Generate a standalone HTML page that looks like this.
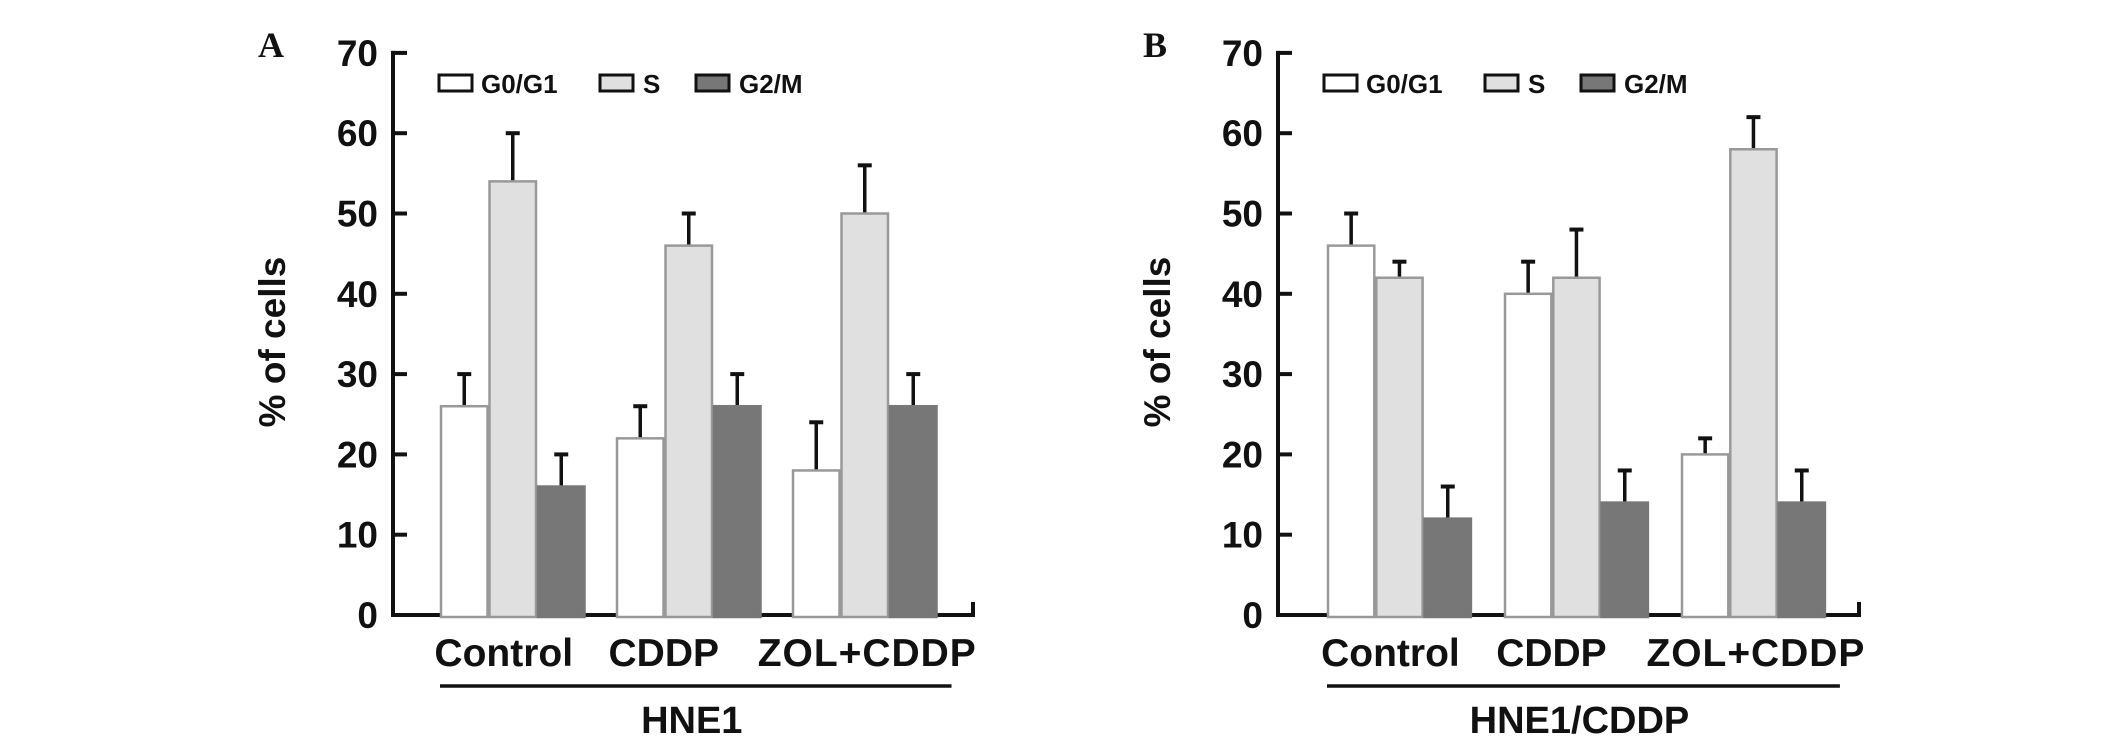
<!DOCTYPE html>
<html><head><meta charset="utf-8"><style>
html,body{margin:0;padding:0;background:#fff;}
svg{display:block;}
text{font-family:"Liberation Sans",Arial,sans-serif;font-weight:bold;fill:#111;}
</style></head><body>
<svg id="chart" width="2126" height="745" viewBox="0 0 2126 745" xmlns="http://www.w3.org/2000/svg"></svg>
<script>
const categories = ["Control", "CDDP", "ZOL+CDDP"];
const seriesNames = ["G0/G1", "S", "G2/M"];
const yTicks = [0, 10, 20, 30, 40, 50, 60, 70];
const aG0 = [26, 22, 18];
const aS = [54, 46, 50];
const aG2 = [16, 26, 26];
const aG0Err = [4, 4, 6];
const aSErr = [6, 4, 6];
const aG2Err = [4, 4, 4];
const bG0 = [46, 40, 20];
const bS = [42, 42, 58];
const bG2 = [12, 14, 14];
const bG0Err = [4, 4, 2];
const bSErr = [2, 6, 4];
const bG2Err = [4, 4, 4];

const NS = "http://www.w3.org/2000/svg";
const svg = document.getElementById("chart");
const fills = ["#ffffff", "#e0e0e0", "#777777"];
const strokes = ["#999", "#999", "#777"];
const labelShift = [-9, -25, 2];

function mk(tag, attrs, parent) {
  const e = document.createElementNS(NS, tag);
  for (const k in attrs) e.setAttribute(k, attrs[k]);
  (parent || svg).appendChild(e);
  return e;
}

function panel(cfg) {
  const g = mk("g", {});
  
  
  const y0 = 615, pxPerUnit = 8.03;
  const yScale = v => y0 - v * pxPerUnit;
  const ax = cfg.axisX, bw = cfg.barW, gs = cfg.groupSpacing, first = cfg.firstBar;
  const xScale = (ci, si) => first + ci * gs + si * bw;

  const xa = mk("line", {x1: ax - 2, y1: y0, x2: cfg.axisEnd, y2: y0, stroke: "#111", "stroke-width": 4}, g);
  
  
  mk("line", {x1: cfg.axisEnd, y1: y0 + 2, x2: cfg.axisEnd, y2: y0 - 13, stroke: "#111", "stroke-width": 4}, g);
  const ya = mk("line", {x1: ax, y1: yScale(70) - 2, x2: ax, y2: y0 + 2, stroke: "#111", "stroke-width": 4}, g);
  
  
  yTicks.forEach(t => {
    mk("line", {x1: ax, y1: yScale(t), x2: ax + 14, y2: yScale(t), stroke: "#111", "stroke-width": 4}, g);
    const tl = mk("text", {x: ax - 15, y: yScale(t) + 13, "text-anchor": "end", "font-size": 37}, g);
    tl.textContent = t;
    
    
  });
  const yt = mk("text", {x: 0, y: 0, "text-anchor": "middle", "font-size": 37, transform: `translate(${ax - 108},${yScale(34)}) rotate(-90)`}, g);
  yt.textContent = "% of cells";
  
  
  const pl = mk("text", {x: ax - 135, y: 57, "font-size": 36, style: "font-family:'Liberation Serif',serif"}, g);
  pl.textContent = cfg.letter;
  
  

  const vals = [cfg.g0, cfg.s, cfg.g2], errs = [cfg.g0e, cfg.se, cfg.g2e];
  categories.forEach((c, ci) => {
    for (let si = 0; si < 3; si++) {
      const v = vals[si][ci], e = errs[si][ci];
      const x = xScale(ci, si);
      const eb = mk("line", {x1: x + bw / 2, y1: yScale(v), x2: x + bw / 2, y2: yScale(v + e), stroke: "#111", "stroke-width": 3.5}, g);
      
      
      mk("line", {x1: x + bw / 2 - 7, y1: yScale(v + e), x2: x + bw / 2 + 7, y2: yScale(v + e), stroke: "#111", "stroke-width": 4}, g);
      const r = mk("rect", {x: x + 1, y: yScale(v), width: bw - 2, height: y0 + 2 - yScale(v), fill: fills[si], stroke: strokes[si], "stroke-width": 2.5}, g);
      
      
    }
    const lbl = mk("text", {x: first + ci * gs + 1.5 * bw + labelShift[ci], y: 666, "text-anchor": "middle", "font-size": 39, textLength: ci === 2 ? 218 : null}, g);
    if (ci !== 2) lbl.removeAttribute("textLength");
    lbl.textContent = c;
    
    
  });
  const ul = mk("line", {x1: first, y1: 686, x2: first + 2 * gs + 3 * bw + 14, y2: 686, stroke: "#111", "stroke-width": 3.5}, g);
  
  
  const gt = mk("text", {x: first + gs + 1.5 * bw + 3, y: 733, "text-anchor": "middle", "font-size": 38}, g);
  gt.textContent = cfg.group;
  
  

  const lx = [ax + 46, ax + 207, ax + 303];
  const txtOff = [42, 43, 43];
  seriesNames.forEach((n, si) => {
    const lb = mk("rect", {x: lx[si], y: 75, width: 33, height: 16, fill: fills[si], stroke: "#111", "stroke-width": 3}, g);
    
    
    const lt = mk("text", {x: lx[si] + txtOff[si], y: 93, "font-size": 26}, g);
    lt.textContent = n;
    
    
  });
}

panel({id: "a", letter: "A", group: "HNE1", axisX: 393, axisEnd: 973, firstBar: 440, barW: 48.5, groupSpacing: 176,
  g0: aG0, s: aS, g2: aG2, g0e: aG0Err, se: aSErr, g2e: aG2Err});
panel({id: "b", letter: "B", group: "HNE1/CDDP", axisX: 1278, axisEnd: 1859, firstBar: 1327, barW: 48.3, groupSpacing: 177,
  g0: bG0, s: bS, g2: bG2, g0e: bG0Err, se: bSErr, g2e: bG2Err});
</script>
</body></html>
